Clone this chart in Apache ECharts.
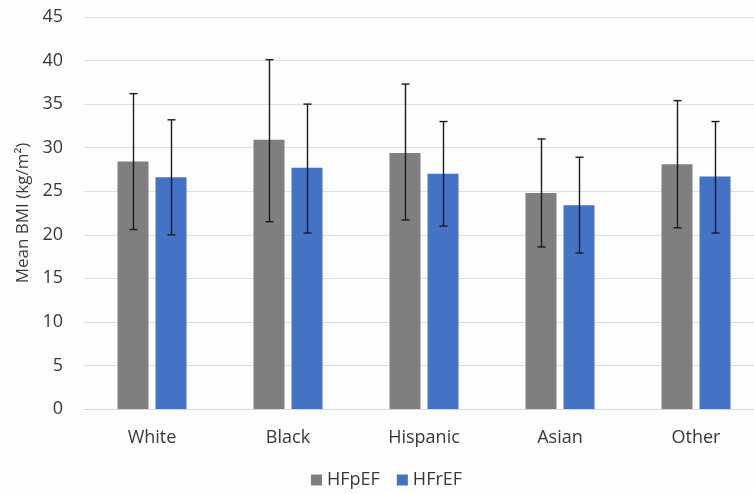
<!DOCTYPE html>
<html>
<head>
<meta charset="utf-8">
<script src="https://cdn.jsdelivr.net/npm/echarts@6/dist/echarts.min.js"></script>
<style>
  html, body { margin: 0; padding: 0; background: #fdfdfd; }
  #chart { width: 754px; height: 494px; }
</style>
</head>
<body>
<div id="chart"></div>
<script>
// Mean BMI by race/ethnicity, HFpEF vs HFrEF, with ±SD whiskers
const categories = ['White', 'Black', 'Hispanic', 'Asian', 'Other'];
const seriesNames = ['HFpEF', 'HFrEF'];
const hfpefMean = [28.4, 30.9, 29.4, 24.8, 28.1];
const hfpefLow  = [20.6, 21.5, 21.7, 18.6, 20.8];
const hfpefHigh = [36.2, 40.1, 37.3, 31.0, 35.4];
const hfrefMean = [26.6, 27.7, 27.0, 23.4, 26.7];
const hfrefLow  = [20.0, 20.2, 21.0, 17.9, 20.2];
const hfrefHigh = [33.2, 35.0, 33.0, 28.9, 33.0];
const yTicks = { min: 0, max: 45, interval: 5 };

const BAR_W = 31;
const BAR_GAP_PX = 7;
const CAP_HALF = 4;
const FONT = '"Open Sans", sans-serif';
const TEXT = '#383838';

function errorSeries(name, low, high, side) {
  const data = categories.map((c, i) => [i, low[i], high[i]]);
  return {
    type: 'custom',
    name: name,
    z: 10,
    silent: true,
    renderItem: function (params, api) {
      const i = api.value(0);
      const lo = api.coord([i, api.value(1)]);
      const hi = api.coord([i, api.value(2)]);
      const x = Math.round(lo[0] + side * (BAR_W + BAR_GAP_PX) / 2) + 0.5;
      const style = { stroke: '#1a1a1a', lineWidth: 1.4 };
      return {
        type: 'group',
        children: [
          { type: 'line', shape: { x1: x, y1: hi[1], x2: x, y2: lo[1] }, style },
          { type: 'line', shape: { x1: x - CAP_HALF, y1: hi[1], x2: x + CAP_HALF, y2: hi[1] }, style },
          { type: 'line', shape: { x1: x - CAP_HALF, y1: lo[1], x2: x + CAP_HALF, y2: lo[1] }, style }
        ]
      };
    },
    encode: { x: 0, y: [1, 2] },
    data: data
  };
}

const chart = echarts.init(document.getElementById('chart'), null, { renderer: 'canvas' });
chart.setOption({
  backgroundColor: '#fdfdfd',
  animation: false,
  textStyle: { fontFamily: FONT },
  // plot area runs a little past the right edge of the canvas
  grid: {
    left: 84, width: 680, top: 17, bottom: 85,
    containLabel: false, outerBoundsMode: 'none'
  },
  legend: {
    data: seriesNames,
    left: 306,
    top: 466,
    itemWidth: 11,
    itemHeight: 11,
    itemGap: 17,
    icon: 'rect',
    textStyle: { fontSize: 18, color: TEXT, fontFamily: FONT }
  },
  xAxis: {
    type: 'category',
    data: categories,
    axisLine: { show: true, lineStyle: { color: '#d9d9d9', width: 1 } },
    axisTick: { show: false },
    axisLabel: { fontSize: 18, color: TEXT, margin: 20, fontFamily: FONT }
  },
  yAxis: {
    type: 'value',
    min: yTicks.min,
    max: yTicks.max,
    interval: yTicks.interval,
    name: 'Mean BMI (kg/m²)',
    nameLocation: 'middle',
    nameGap: 49,
    nameRotate: 90,
    nameTextStyle: { fontSize: 17, color: TEXT, fontFamily: FONT },
    axisLine: { show: false },
    axisTick: { show: false },
    axisLabel: { fontSize: 18, color: TEXT, margin: 21, fontFamily: FONT },
    splitLine: { lineStyle: { color: '#dedede', width: 1 } }
  },
  series: [
    {
      name: seriesNames[0], type: 'bar', data: hfpefMean,
      barWidth: BAR_W, barGap: (BAR_GAP_PX / BAR_W * 100).toFixed(1) + '%',
      itemStyle: { color: '#7f7f7f' }
    },
    {
      name: seriesNames[1], type: 'bar', data: hfrefMean,
      barWidth: BAR_W,
      itemStyle: { color: '#4472c4' }
    },
    errorSeries('HFpEF SD', hfpefLow, hfpefHigh, -1),
    errorSeries('HFrEF SD', hfrefLow, hfrefHigh, 1)
  ]
});
</script>
</body>
</html>
